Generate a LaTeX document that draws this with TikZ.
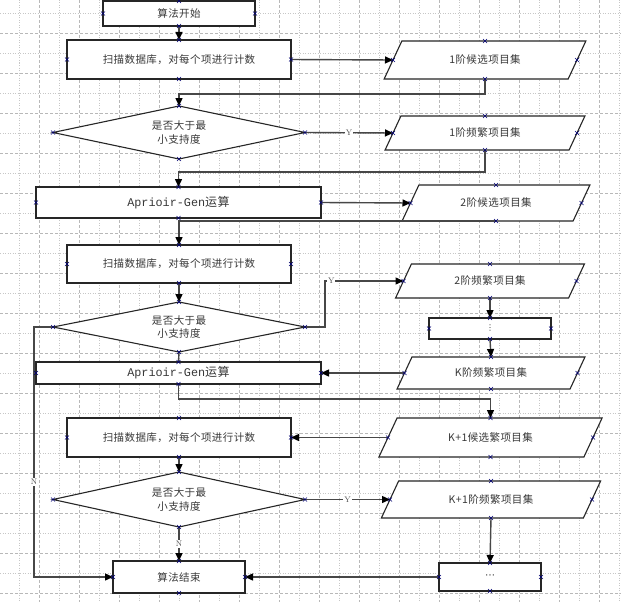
\documentclass[tikz,border=0pt]{standalone}
\usepackage{fontspec}
\newfontfamily\cjk{Noto Sans CJK SC}[LetterSpace=4]
\newfontfamily\monofnt{Liberation Mono}
\newfontfamily\dejavu{DejaVu Sans}
\usetikzlibrary{shapes.geometric,arrows.meta}
\tikzset{
  shp/.style={draw=black!85, line width=1.1pt, fill=white},
  box/.style={shp, rectangle, outer sep=0pt, inner sep=0pt, font=\cjk\fontsize{10.5}{13.5}\selectfont, text=black!78},
  dia/.style={box, diamond, aspect=4.7, align=center},
  ptext/.style={rectangle, outer sep=0pt, inner sep=0pt, font=\cjk\fontsize{10.5}{13.5}\selectfont, text=black!78},
  conn/.style={draw=black!72, line width=1.4pt},
  arr/.style={conn, -{Triangle[length=8pt,width=7pt,color=black]}},
  xmk/.style={draw=blue!45!black, line width=0.5pt},
  lab/.style={fill=white, inner sep=1pt, font=\fontsize{8}{9}\selectfont, text=black!70},
  gridmin/.style={draw=black!22, line width=0.5pt, dash pattern=on 1pt off 1.5pt},
  gridmaj/.style={draw=black!28, line width=0.6pt, dash pattern=on 3pt off 2pt},
}
\newcommand\para[6]{%
  \draw[shp] ({#2-#4/2+0.233*#5},{#3-#5/2}) -- ({#2+#4/2+0.233*#5},{#3-#5/2}) -- ({#2+#4/2-0.233*#5},{#3+#5/2}) -- ({#2-#4/2-0.233*#5},{#3+#5/2}) -- cycle;
  \node[ptext, minimum width=#4, minimum height=#5] (#1) at (#2,#3) {#6};}
\newcommand\xmarks[1]{%
  \foreach \a in {north,south,east,west}{%
    \draw[xmk] ([shift={(-2,-2)}]#1.\a) -- ([shift={(2,2)}]#1.\a) ([shift={(-2,2)}]#1.\a) -- ([shift={(2,-2)}]#1.\a);}}
\begin{document}
\begin{tikzpicture}[x=1pt,y=-1pt]
\useasboundingbox (0,0) rectangle (621,602);
\fill[white] (0,0) rectangle (621,602);
% grid
\foreach \i in {0,...,15} {\draw[gridmin] ({19.5+40*\i},0) -- ({19.5+40*\i},602);}
\foreach \i in {0,...,14} {\draw[gridmaj] ({39.5+40*\i},0) -- ({39.5+40*\i},602);}
\foreach \i in {0,...,14} {\draw[gridmin] (0,{13.3+40*\i}) -- (621,{13.3+40*\i});}
\foreach \i in {0,...,14} {\draw[gridmaj] (0,{33.3+40*\i}) -- (621,{33.3+40*\i});}

% left column
\node[box, minimum width=152, minimum height=25] (start) at (179,13.5) {算法开始};
\node[box, minimum width=224, minimum height=39] (s1) at (179,59.5) {扫描数据库，对每个项进行计数};
\node[dia, minimum width=252, minimum height=53] (d1) at (179,132.5) {是否大于最\\小支持度};
\node[box, minimum width=285, minimum height=31, font=\cjk\fontsize{12}{14}\selectfont] (a1) at (178.5,202.5) {{\monofnt\fontsize{11.8}{14}\selectfont Aprioir-Gen}运算};
\node[box, minimum width=224, minimum height=38] (s2) at (179,264) {扫描数据库，对每个项进行计数};
\node[dia, minimum width=252, minimum height=50] (d2) at (179,327) {是否大于最\\小支持度};
\node[box, minimum width=285, minimum height=22, font=\cjk\fontsize{12}{14}\selectfont] (a2) at (178.5,373) {{\monofnt\fontsize{11.8}{14}\selectfont Aprioir-Gen}运算};
\node[box, minimum width=224, minimum height=39] (s3) at (179,437.5) {扫描数据库，对每个项进行计数};
\node[dia, minimum width=252, minimum height=55] (d3) at (179,499.5) {是否大于最\\小支持度};
\node[box, minimum width=132, minimum height=32] (end) at (179,577) {算法结束};

% right column
\para{p1}{485}{60}{184}{38}{1阶候选项目集}
\para{p2}{485}{133}{184}{34}{1阶频繁项目集}
\para{p3}{496}{203}{171}{36}{2阶候选项目集}
\para{p4}{490}{281}{173}{34}{2阶频繁项目集}
\node[box, minimum width=122, minimum height=21] (dt1) at (490,328.5) {\dejavu\fontsize{8}{8}\selectfont ⋮};
\para{p5}{491}{373}{173}{32}{K阶频繁项目集}
\para{p6}{490.5}{437.5}{205}{39}{K+1候选繁项目集}
\para{p7}{491}{499.5}{202}{37}{K+1阶频繁项目集}
\node[box, minimum width=102, minimum height=28] (dt2) at (490,577) {\dejavu\fontsize{10}{10}\selectfont ⋯};

% connectors
\draw[arr] (start.south) -- (s1.north);
\draw[arr] (s1.east) -- (p1.west);
\draw[arr] (p1.south) -- ++(0,15) -| (d1.north);
\draw[arr] (d1.east) -- node[lab]{Y} (p2.west);
\draw[arr] (p2.south) -- ++(0,22) -| (a1.north);
\draw[arr] (a1.east) -- (p3.west);
\draw[arr] (p3.south) -| (s2.north);
\draw[arr] (s2.south) -- (d2.north);
\draw[arr] (d2.east) -- ++(20,0) |- node[lab, pos=0.54]{Y} (p4.west);
\draw[arr] (p4.south) -- (dt1.north);
\draw[arr] (dt1.south) -- (p5.north);
\draw[arr] (p5.west) -- (a2.east);
\draw[conn] (d2.south) -- (a2.north);
\draw[arr] (a2.south) -- ++(0,15) -| (p6.north);
\draw[arr] (p6.west) -- (s3.east);
\draw[arr] (s3.south) -- (d3.north);
\draw[arr] (d3.east) -- node[lab]{Y} (p7.west);
\draw[arr] (p7.south) -- (dt2.north);
\draw[arr] (dt2.west) -- (end.east);
\draw[arr] (d3.south) -- node[lab]{N} (end.north);
\draw[arr] (d2.west) -- ++(-19,0) |- node[lab, pos=0.31]{N} (end.west);

% connection point markers
\foreach \n in {start,s1,d1,a1,s2,d2,a2,s3,d3,end,p1,p2,p3,p4,dt1,p5,p6,p7,dt2} {\xmarks{\n}}
\end{tikzpicture}
\end{document}
